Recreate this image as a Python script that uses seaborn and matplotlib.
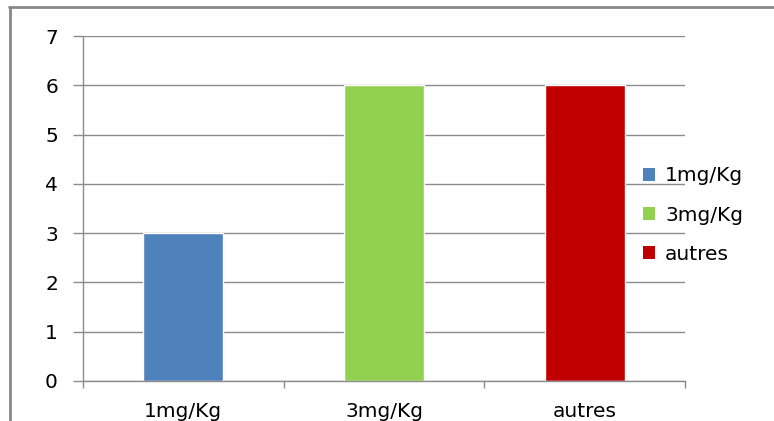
import matplotlib
matplotlib.use("Agg")
import matplotlib.pyplot as plt
from matplotlib.lines import Line2D
from matplotlib.patches import Patch
import seaborn as sns
import pandas as pd

categories = ["1mg/Kg", "3mg/Kg", "autres"]
values = [3, 6, 6]
colors = ["#4F81BD", "#92D050", "#C00000"]
yticks = [0, 1, 2, 3, 4, 5, 6, 7]

sns.set_theme(style="white")
plt.rcParams["font.family"] = ["DejaVu Sans"]

df = pd.DataFrame({"cat": categories, "val": values})

fig = plt.figure(figsize=(7.74, 4.21), dpi=100)
ax = fig.add_axes([83 / 774, 1 - 381 / 421, (685 - 83) / 774, (381 - 36) / 421])

sns.barplot(data=df, x="cat", y="val", hue="cat", palette=colors,
            width=0.4, dodge=False, legend=False, ax=ax, saturation=1)

grid_c = "#8c8c8c"
fs = 14.5
ax.set_ylim(0, 7)
ax.set_xlim(-0.5, 2.5)
ax.set_yticks(yticks)
ax.yaxis.grid(True, color=grid_c, linewidth=1)
ax.set_axisbelow(True)
ax.set_xlabel("")
ax.set_ylabel("")

for s in ["top", "right"]:
    ax.spines[s].set_visible(False)
for s in ["left", "bottom"]:
    ax.spines[s].set_color(grid_c)
    ax.spines[s].set_linewidth(1)

ax.tick_params(axis="y", length=7, color=grid_c, width=1, labelsize=fs, pad=11, left=True)
ax.tick_params(axis="x", which="major", length=0, labelsize=fs, pad=15)
ax.set_xticks([-0.5, 0.5, 1.5, 2.5], minor=True)
ax.tick_params(axis="x", which="minor", length=5, color=grid_c, width=1, bottom=True)
for lab in ax.get_yticklabels() + ax.get_xticklabels():
    lab.set_color("#000000")

handles = [Patch(facecolor=c, edgecolor="none", label=l) for c, l in zip(colors, categories)]
fig.legend(handles=handles, loc="center left", bbox_to_anchor=(637 / 774, 1 - 215 / 421),
           frameon=False, fontsize=fs, handlelength=0.6, handleheight=0.6,
           handletextpad=0.5, labelspacing=1.0, borderaxespad=0, borderpad=0.3,
           labelcolor="#000000")

# chart frame edges
fig.add_artist(Line2D([9 / 774, 1], [1 - 7 / 421, 1 - 7 / 421], color="#888888", linewidth=2))
fig.add_artist(Line2D([10 / 774, 10 / 774], [0, 1 - 7 / 421], color="#888888", linewidth=2))

fig.savefig("out.png", dpi=100)
